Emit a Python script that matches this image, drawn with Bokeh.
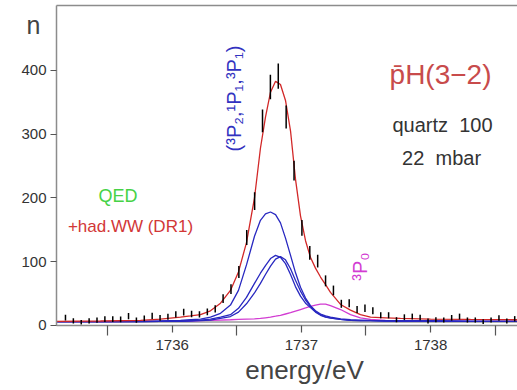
import math
from bokeh.plotting import figure
from bokeh.models import ColumnDataSource, Range1d, FixedTicker, Label
from bokeh.embed import file_html
from bokeh.resources import INLINE

# ---------------- data ----------------
energy_bins = [1735.174, 1735.235, 1735.296, 1735.357, 1735.418, 1735.479, 1735.540, 1735.601,
               1735.662, 1735.723, 1735.784, 1735.845, 1735.906, 1735.967, 1736.028, 1736.089,
               1736.150, 1736.211, 1736.272, 1736.333, 1736.394, 1736.455, 1736.516, 1736.577,
               1736.638, 1736.699, 1736.760, 1736.821, 1736.882, 1736.943, 1737.004, 1737.065,
               1737.126, 1737.187, 1737.248, 1737.309, 1737.370, 1737.431, 1737.492, 1737.553,
               1737.614, 1737.675, 1737.736, 1737.797, 1737.858, 1737.919, 1737.980, 1738.041,
               1738.102, 1738.163, 1738.224, 1738.285, 1738.346, 1738.407, 1738.468, 1738.529,
               1738.590, 1738.651]
counts = [12.5, 7.3, 5, 7.3, 8.4, 10, 10, 9.6, 14.7, 8.4, 11.2, 15, 11.8, 13.6, 17.5, 21,
          18, 17.5, 21.5, 26, 42, 57, 84, 138, 195, 321, 374, 391, 327, 243, 153, 114,
          101, 70, 55, 34, 35, 25, 27, 23, 16, 16, 9, 13, 14, 12.5, 7, 9, 8.6, 12, 14, 8.6,
          8.6, 6, 8.6, 11.8, 7, 10.5]
count_err = [4.5, 4, 3.6, 4, 4.2, 4.4, 4.4, 4.4, 4.8, 4.2, 4.5, 4.8, 4.5, 4.7, 5, 5.3,
             5, 5, 5.3, 5.8, 6.8, 7.8, 9.4, 11.8, 14, 18, 19.3, 19.8, 18, 15.6, 12.4, 10.7,
             10, 8.6, 7.6, 6.3, 6.3, 5.6, 5.8, 5.4, 4.8, 4.8, 4, 4.5, 4.6, 4.4, 3.8, 4, 4, 4.4,
             4.6, 4, 4, 3.6, 4, 4.3, 3.8, 4.2]

curve_energy = [1735.104, 1735.445, 1735.755, 1735.909, 1736.064, 1736.142, 1736.219, 1736.296,
                1736.374, 1736.451, 1736.513, 1736.575, 1736.637, 1736.683, 1736.722, 1736.761,
                1736.800, 1736.838, 1736.877, 1736.916, 1736.954, 1736.993, 1737.032, 1737.070,
                1737.109, 1737.148, 1737.187, 1737.225, 1737.303, 1737.380, 1737.457, 1737.535,
                1737.651, 1737.767, 1737.999, 1738.309, 1738.673]
total_fit = [6.5, 7, 8, 10, 13, 15, 17, 23, 35, 55, 84, 130, 200, 278, 327, 366, 383, 378, 353, 305,
             230, 172, 133, 107, 90, 76, 64, 52, 33, 24, 17, 13, 12, 11, 10, 9.5, 9]
line_3P2 = [6, 6, 6.5, 7, 8, 9, 10, 13, 19, 32, 55, 95, 140, 165, 175, 178, 174, 161, 137, 110,
            83, 60, 43, 31, 23, 18, 15, 13, 10.5, 9, 8.5, 8, 7.5, 7, 7, 6.5, 6.5]
line_1P1 = [6, 6, 6, 6.5, 7, 7.5, 8.5, 10, 13, 17, 27, 44, 66, 82, 94, 105, 110, 107, 97, 80,
            61, 46, 35, 28, 21, 16, 13, 11.5, 9.5, 8, 7.5, 7.5, 7, 7, 7, 6.5, 6.5]
line_3P1 = [6, 6, 6, 6.5, 6.5, 7, 7.5, 8.5, 11, 14, 21, 34, 51, 66, 80, 93, 104, 108, 103, 89,
            71, 54, 40, 30, 22, 17, 13.5, 12, 9.5, 8, 7.5, 7.5, 7, 7, 7, 6.5, 6.5]
line_3P0 = [6, 6, 6.5, 6.5, 7, 7, 7.5, 8, 8.5, 9, 9.5, 10, 10.5, 11, 12, 13, 14.5, 16, 18, 20,
            22.5, 25, 27.5, 30, 32, 33.5, 33.5, 31, 25, 17, 12, 9.5, 8, 7.5, 7, 6.5, 6.5]
background_energy = [1735.104, 1738.673]
background = [5.5, 5.5]

x_major = [1736, 1737, 1738]
x_minor = [1735.5, 1736.5, 1737.5, 1738.5]
y_ticks = [0, 100, 200, 300, 400]

# frame limits of the original plot box
E_LEFT, E_RIGHT = 1735.1045, 1738.6726
N_TOP = 502.0

# ---------------- figure ----------------
FONT = "Liberation Sans"
AX = "#8c8c8c"
p = figure(width=517, height=390, output_backend="svg", toolbar_location=None,
           x_range=Range1d(1734.6711, 1738.6726), y_range=Range1d(-102.0, 509.8),
           min_border_left=0, min_border_right=0, min_border_top=0, min_border_bottom=0)
p.outline_line_color = None
p.grid.visible = False
p.background_fill_color = "white"
p.border_fill_color = "white"

for ax in (p.xaxis[0], p.yaxis[0]):
    ax.axis_line_color = AX
    ax.axis_line_width = 1.5
    ax.major_tick_line_color = "#555555"
    ax.major_tick_line_width = 1.2
    ax.major_tick_in = 0
    ax.major_label_text_font = FONT
    ax.major_label_text_font_size = "15px"
    ax.major_label_text_color = "#333333"

p.xaxis.fixed_location = 0
p.xaxis.bounds = (E_LEFT, E_RIGHT)
p.xaxis.ticker = FixedTicker(ticks=x_major, minor_ticks=x_minor)
p.xaxis.major_tick_out = 7
p.xaxis.minor_tick_in = 0
p.xaxis.minor_tick_out = 10
p.xaxis.minor_tick_line_color = "#555555"
p.xaxis.minor_tick_line_width = 1.2
p.xaxis.major_label_standoff = 5

p.yaxis.fixed_location = E_LEFT
p.yaxis.bounds = (0, N_TOP)
p.yaxis.ticker = FixedTicker(ticks=y_ticks)
p.yaxis.major_tick_out = 6
p.yaxis.minor_tick_line_color = None
p.yaxis.major_label_standoff = 4

# top border of the plot box
p.segment(x0=[E_LEFT], y0=[N_TOP], x1=[E_RIGHT], y1=[N_TOP], line_color=AX, line_width=1.5)

# background and curves
p.line(background_energy, background, line_color="#b4b4b4", line_width=2)
p.line(curve_energy, line_3P0, line_color="#d23cd2", line_width=1.3)
p.line(curve_energy, line_3P2, line_color="#2828c0", line_width=1.3)
p.line(curve_energy, line_1P1, line_color="#2828c0", line_width=1.3)
p.line(curve_energy, line_3P1, line_color="#2828c0", line_width=1.3)
p.line(curve_energy, total_fit, line_color="#d22828", line_width=1.3)

# data with error bars
src = ColumnDataSource(dict(
    x=energy_bins,
    lo=[c - e for c, e in zip(counts, count_err)],
    hi=[c + e for c, e in zip(counts, count_err)],
))
p.segment(x0="x", y0="lo", x1="x", y1="hi", source=src, line_color="black", line_width=1.5)

# texts
def lab(x, y, text, color, size, angle=0.0):
    p.add_layout(Label(x=x, y=y, text=text, text_color=color, text_font=FONT,
                       text_font_size=f"{size}px", text_align="center",
                       text_baseline="middle", angle=angle))

lab(1734.926, 470.6, "n", "#444444", 25)
lab(1737.024, -70.6, "energy/eV", "#444444", 26)
lab(1738.077, 394, "p\u0304H(3\u22122)", "#c84b4b", 28)
lab(1738.092, 315, "quartz\u00a0 100", "#333333", 20)
lab(1738.085, 262, "22\u00a0 mbar", "#333333", 20)
lab(1735.580, 203, "QED", "#46d246", 18)
lab(1735.677, 155, "+had.WW (DR1)", "#d23737", 17)
lab(1736.482, 356, "(\u00b3P\u2082,\u00b9P\u2081,\u00b3P\u2081)", "#3232c0", 20, math.pi / 2)
lab(1737.457, 92.5, "\u00b3P\u2080", "#d23cd2", 20, math.pi / 2)

open("out.html", "w").write(file_html(p, INLINE))
